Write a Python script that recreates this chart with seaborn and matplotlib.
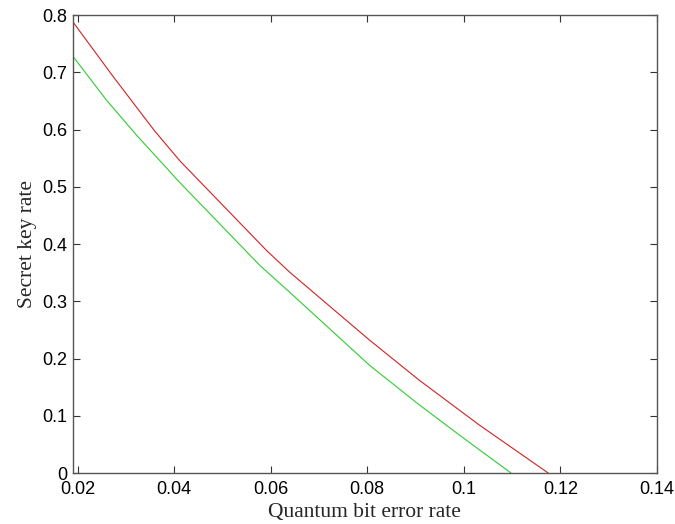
import pandas as pd
import matplotlib
matplotlib.use('Agg')
import matplotlib.pyplot as plt
import seaborn as sns

# valores
red_qber = [0.019, 0.0273, 0.0359, 0.0412, 0.0591, 0.0639, 0.0805, 0.0908, 0.1032, 0.1175]
red_rate = [0.788, 0.693, 0.598, 0.545, 0.389, 0.351, 0.232, 0.162, 0.084, 0.0]

green_qber = [0.019, 0.0259, 0.0321, 0.0412, 0.0577, 0.0639, 0.0805, 0.0908, 0.1001, 0.1098]
green_rate = [0.728, 0.652, 0.591, 0.507, 0.363, 0.316, 0.188, 0.119, 0.060, 0.0]

x_ticks = [0.02, 0.04, 0.06, 0.08, 0.1, 0.12, 0.14]
x_labels = ['0.02', '0.04', '0.06', '0.08', '0.1', '0.12', '0.14']
y_ticks = [0, 0.1, 0.2, 0.3, 0.4, 0.5, 0.6, 0.7, 0.8]
y_labels = ['0', '0.1', '0.2', '0.3', '0.4', '0.5', '0.6', '0.7', '0.8']

sns.set_style('ticks')
plt.rcParams['font.family'] = ['Liberation Sans', 'DejaVu Sans']

red = pd.DataFrame({'qber': red_qber, 'rate': red_rate})
green = pd.DataFrame({'qber': green_qber, 'rate': green_rate})

fig = plt.figure(figsize=(6.75, 5.24), dpi=100)
ax = fig.add_axes([0.108, 0.0973, 0.865, 0.874])

sns.lineplot(data=red, x='qber', y='rate', color='#d42020', linewidth=0.8, ax=ax)
sns.lineplot(data=green, x='qber', y='rate', color='#2ecc2e', linewidth=0.8, ax=ax)

ax.set_xlim(0.019, 0.14)
ax.set_ylim(0, 0.8)
ax.set_xticks(x_ticks)
ax.set_xticklabels(x_labels)
ax.set_yticks(y_ticks)
ax.set_yticklabels(y_labels)
ax.tick_params(direction='in', length=5, width=0.8, top=True, right=True,
               labelsize=13, colors='#333333', labelcolor='black')
ax.tick_params(axis='x', pad=6)
ax.tick_params(axis='y', pad=4)
for s in ax.spines.values():
    s.set_color('#555555')
    s.set_linewidth(1.0)

ax.set_xlabel('Quantum bit error rate', family='Liberation Serif', fontsize=15.5, labelpad=3)
ax.set_ylabel('Secret key rate', family='Liberation Serif', fontsize=15.5, labelpad=4)

fig.savefig('out.png', dpi=100)
